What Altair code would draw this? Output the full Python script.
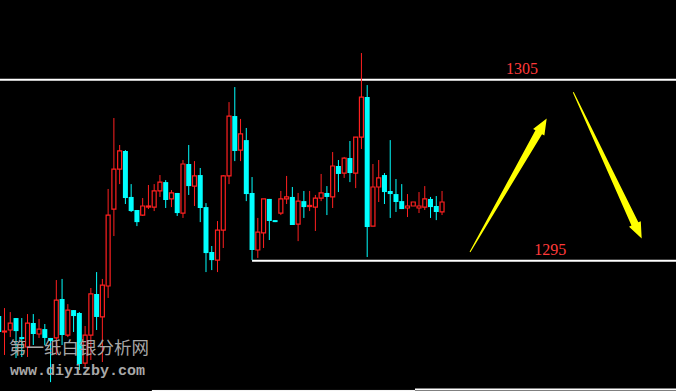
import math
import altair as alt
import pandas as pd

# ---------------- data ----------------
opens = [1291.94, 1291.06, 1291.17, 1291.83, 1290.78, 1290.23, 1291.55, 1290.95, 1291.22, 1290.73,
         1290.73, 1292.88, 1290.89, 1292.27, 1292.11, 1289.34, 1290.89, 1293.16, 1291.89, 1293.60,
         1297.85, 1300.06, 1301.06, 1298.52, 1297.80, 1297.52, 1297.96, 1297.96, 1298.85, 1299.34,
         1298.41, 1298.74, 1297.63, 1300.34, 1299.12, 1299.73, 1297.96, 1295.48, 1295.03, 1296.69,
         1299.68, 1302.99, 1301.11, 1301.66, 1298.74, 1295.59, 1296.53, 1298.41, 1297.24, 1297.63,
         1298.41, 1298.52, 1297.02, 1298.29, 1297.99, 1297.96, 1298.46, 1298.74, 1298.52, 1300.23,
         1299.84, 1300.67, 1299.84, 1301.83, 1304.04, 1296.91, 1299.07, 1299.73, 1298.85, 1298.68,
         1298.29, 1297.91, 1298.02, 1297.91, 1297.96, 1298.41, 1298.02, 1297.69]
highs = [1292.00, 1292.38, 1292.16, 1291.83, 1291.83, 1292.05, 1292.05, 1291.78, 1291.50, 1290.73,
         1293.93, 1293.99, 1292.60, 1292.27, 1292.16, 1291.39, 1293.49, 1294.37, 1293.99, 1298.96,
         1302.88, 1301.39, 1301.11, 1299.23, 1297.80, 1298.46, 1299.18, 1299.23, 1299.73, 1299.45,
         1298.90, 1298.74, 1300.56, 1301.39, 1300.50, 1300.12, 1298.18, 1295.81, 1297.19, 1299.73,
         1303.76, 1304.59, 1302.83, 1302.33, 1299.62, 1297.36, 1298.41, 1298.41, 1297.24, 1298.85,
         1299.68, 1299.07, 1298.74, 1298.85, 1298.85, 1298.63, 1299.79, 1299.12, 1301.00, 1300.56,
         1300.73, 1301.61, 1301.83, 1306.47, 1304.70, 1300.34, 1300.56, 1299.84, 1301.66, 1299.51,
         1299.23, 1298.68, 1298.24, 1298.79, 1299.12, 1298.52, 1298.57, 1298.85]
lows = [1291.06, 1289.79, 1290.78, 1289.62, 1289.68, 1289.68, 1290.34, 1290.73, 1290.34, 1288.29,
        1289.79, 1290.34, 1290.78, 1291.06, 1288.96, 1289.07, 1289.51, 1291.17, 1289.40, 1292.94,
        1296.36, 1299.23, 1298.13, 1297.69, 1296.91, 1297.47, 1297.85, 1297.74, 1298.52, 1297.91,
        1297.96, 1297.47, 1297.36, 1298.63, 1298.02, 1297.13, 1294.37, 1294.48, 1294.37, 1295.70,
        1299.23, 1300.50, 1300.50, 1298.29, 1295.03, 1295.15, 1295.70, 1296.14, 1297.13, 1297.52,
        1298.13, 1296.97, 1296.08, 1297.36, 1297.74, 1296.64, 1298.29, 1297.52, 1297.91, 1298.79,
        1299.57, 1299.34, 1299.01, 1301.17, 1295.20, 1296.91, 1298.24, 1298.13, 1297.36, 1297.69,
        1297.85, 1297.41, 1298.02, 1297.63, 1297.80, 1297.36, 1297.24, 1297.52]
closes = [1291.06, 1291.11, 1291.55, 1291.11, 1290.67, 1291.55, 1290.95, 1291.22, 1290.73, 1290.56,
          1292.82, 1290.89, 1292.27, 1291.94, 1289.29, 1290.89, 1293.16, 1291.89, 1293.65, 1297.52,
          1300.06, 1301.06, 1298.46, 1297.74, 1297.13, 1298.02, 1298.02, 1298.85, 1299.34, 1298.35,
          1298.74, 1297.63, 1300.34, 1299.12, 1299.68, 1297.91, 1295.42, 1295.03, 1296.69, 1299.68,
          1302.99, 1301.06, 1302.00, 1298.68, 1295.59, 1296.58, 1298.41, 1297.19, 1297.13, 1298.41,
          1298.52, 1296.97, 1298.29, 1297.96, 1298.05, 1298.46, 1298.74, 1298.52, 1300.23, 1299.79,
          1300.67, 1299.84, 1301.83, 1304.04, 1296.86, 1299.07, 1299.57, 1298.79, 1298.68, 1298.24,
          1297.85, 1298.02, 1298.24, 1298.02, 1298.41, 1297.96, 1297.69, 1298.24]

# horizontal price levels (white lines) and where they begin / end (bar index)
level_values = [1305, 1295, 1287.83, 1287.88]
level_from = [1.218, 45.0, 27.6, 73.3]
level_to = [118.64, 118.64, 73.3, 118.64]
level_widths = [2, 2, 1, 2]

# price labels
label_texts = ["1305", "1295"]
label_prices = [1305, 1295]
label_index = [91.9, 96.8]

# yellow arrows: tail / tip in (bar index, price)
arrow_tail_x = [82.86, 100.8]
arrow_tail_y = [1295.48, 1304.30]
arrow_tip_x = [96.18, 112.68]
arrow_tip_y = [1302.86, 1296.23]

watermark_cn = "第一纸白银分析网"
watermark_url = "www.diyizby.com"

# ---------------- chart ----------------
W, H = 676, 391
XMIN, XMAX = 1.218, 118.64
YMIN, YMAX = 1287.80, 1309.40
RED = "#ff2020"
CYAN = "#00ffff"

xs = alt.Scale(domain=[XMIN, XMAX], nice=False, zero=False, padding=0)
ys = alt.Scale(domain=[YMIN, YMAX], nice=False, zero=False, padding=0)

df = pd.DataFrame({
    "i": list(range(1, len(opens) + 1)),
    "open": opens, "high": highs, "low": lows, "close": closes,
})
df["up"] = df["close"] >= df["open"]
up = df[df["up"]]
down = df[~df["up"]]

X = alt.X("i:Q", scale=xs, axis=None)


def wicks(d, color):
    return alt.Chart(d).mark_rule(color=color, strokeWidth=1, clip=True).encode(
        x=X, y=alt.Y("low:Q", scale=ys, axis=None), y2="high:Q")


up_wick = wicks(up, RED)
down_wick = wicks(down, CYAN)
up_body = alt.Chart(up).mark_bar(size=4, fill="black", stroke=RED, strokeWidth=1.2, clip=True).encode(
    x=X, y=alt.Y("open:Q", scale=ys, axis=None), y2="close:Q")
down_body = alt.Chart(down).mark_bar(size=5, color=CYAN, clip=True).encode(
    x=X, y=alt.Y("open:Q", scale=ys, axis=None), y2="close:Q")

levels = pd.DataFrame({"v": level_values, "a": level_from, "b": level_to, "w": level_widths})
level_layers = []
for w in sorted(set(level_widths)):
    level_layers.append(
        alt.Chart(levels[levels["w"] == w]).mark_rule(color="white", strokeWidth=w).encode(
            x=alt.X("a:Q", scale=xs, axis=None), x2="b:Q",
            y=alt.Y("v:Q", scale=ys, axis=None))
    )

labels = alt.Chart(pd.DataFrame({"t": label_texts, "p": label_prices, "x": label_index})).mark_text(
    font="Liberation Serif", fontSize=16, color="#ff3a3a", baseline="alphabetic", dy=-6, align="center"
).encode(x=alt.X("x:Q", scale=xs, axis=None), y=alt.Y("p:Q", scale=ys, axis=None), text="t:N")

# arrows drawn as one custom symbol each (tapered shaft + head)
PXX = W / (XMAX - XMIN)
PXY = H / (YMAX - YMIN)
arrow_layers = []
for tx, ty, hx, hy in zip(arrow_tail_x, arrow_tail_y, arrow_tip_x, arrow_tip_y):
    dx = (hx - tx) * PXX
    dy = -(hy - ty) * PXY
    L = math.hypot(dx, dy)
    ang = math.degrees(math.atan2(dx, -dy)) % 360
    u = L / 2.0
    hl, hw, sw, tw = 16 / u, 6.5 / u, 3.8 / u, 0.5 / u
    b = -1 + hl
    path = (f"M0,-1L{hw:.4f},{b:.4f}L{sw:.4f},{b:.4f}L{tw:.4f},1"
            f"L{-tw:.4f},1L{-sw:.4f},{b:.4f}L{-hw:.4f},{b:.4f}Z")
    cen = pd.DataFrame({"x": [(tx + hx) / 2], "y": [(ty + hy) / 2]})
    arrow_layers.append(
        alt.Chart(cen).mark_point(shape=path, size=L * L, angle=ang, filled=True,
                                  fill="#ffff00", strokeWidth=0, opacity=1).encode(
            x=alt.X("x:Q", scale=xs, axis=None), y=alt.Y("y:Q", scale=ys, axis=None))
    )

wm1 = alt.Chart(pd.DataFrame({"t": [watermark_cn]})).mark_text(
    font="Noto Sans CJK SC", fontSize=17.5, color="#a8a8a8", align="left", baseline="middle"
).encode(text="t:N", x=alt.value(9), y=alt.value(348.5))
wm2 = alt.Chart(pd.DataFrame({"t": [watermark_url]})).mark_text(
    font="Liberation Mono", fontSize=15, fontWeight="bold", color="#a8a8a8", align="left",
    baseline="alphabetic"
).encode(text="t:N", x=alt.value(10), y=alt.value(374.5))

chart = alt.layer(
    *level_layers, up_wick, down_wick, up_body, down_body, labels, *arrow_layers, wm1, wm2
).properties(
    width=W, height=H, autosize=alt.AutoSizeParams(type="none"), padding=0
).configure(background="black").configure_view(strokeWidth=0)

chart.save("out.html", embed_options={"renderer": "svg", "actions": False})
